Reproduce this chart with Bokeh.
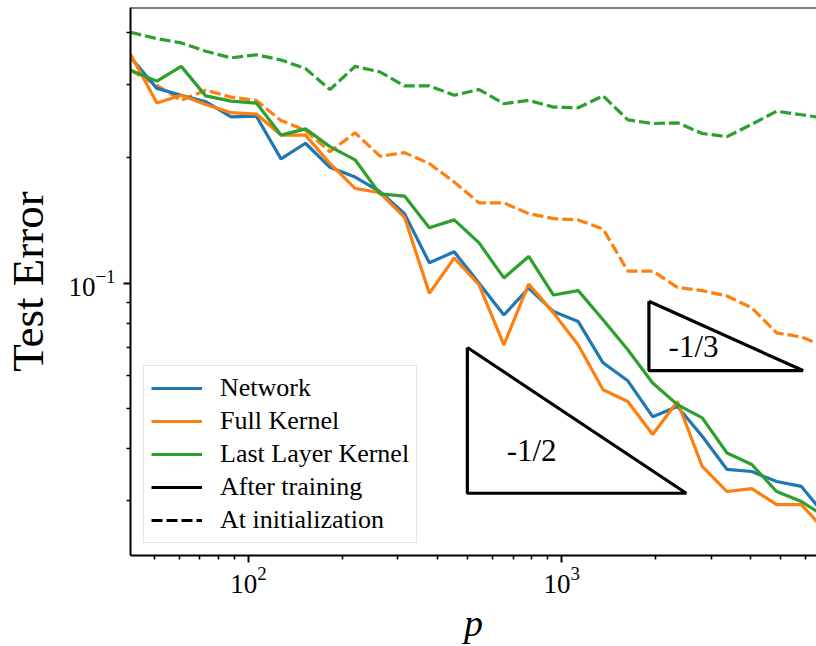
from bokeh.plotting import figure
from bokeh.models import (Range1d, FixedTicker, LogTickFormatter, Span, Legend,
                          LegendItem, ColumnDataSource)
from bokeh.core.properties import value
from bokeh.embed import file_html
from bokeh.resources import INLINE

# ---------------- data ----------------
p_values = [42, 51, 61, 73, 88, 106, 127, 152, 182, 219, 263, 315, 378, 454, 545,
            654, 785, 942, 1130, 1356, 1627, 1953, 2343, 2812, 3374, 4049, 4859,
            5831, 6997]

network = [0.349, 0.294, 0.283, 0.273, 0.251, 0.252, 0.199, 0.217, 0.190, 0.180,
           0.166, 0.147, 0.112, 0.119, 0.100, 0.0839, 0.0974, 0.0855, 0.0809,
           0.0644, 0.0583, 0.0478, 0.0506, 0.0429, 0.0357, 0.0353, 0.0334,
           0.0325, 0.0275]

full_kernel = [0.355, 0.271, 0.283, 0.269, 0.257, 0.255, 0.227, 0.227, 0.194,
               0.169, 0.165, 0.144, 0.0946, 0.115, 0.0991, 0.0711, 0.0996, 0.0849,
               0.0711, 0.0555, 0.0520, 0.0433, 0.0520, 0.0363, 0.0316, 0.0321,
               0.0294, 0.0294, 0.0253]

last_layer = [0.325, 0.306, 0.332, 0.282, 0.274, 0.271, 0.227, 0.235, 0.213, 0.198,
              0.164, 0.162, 0.136, 0.142, 0.125, 0.103, 0.116, 0.0937, 0.0960,
              0.0817, 0.0692, 0.0576, 0.0511, 0.0475, 0.0391, 0.0367, 0.0316,
              0.0299, 0.0274]

full_kernel_init = [0.325, 0.299, 0.275, 0.291, 0.280, 0.275, 0.246, 0.233, 0.207,
                    0.230, 0.202, 0.206, 0.194, 0.175, 0.156, 0.156, 0.147, 0.143,
                    0.142, 0.135, 0.107, 0.107, 0.0978, 0.0960, 0.0932, 0.0873,
                    0.0760, 0.0743, 0.0703]

last_layer_init = [0.401, 0.387, 0.378, 0.361, 0.348, 0.354, 0.344, 0.328, 0.292,
                   0.332, 0.322, 0.298, 0.298, 0.283, 0.292, 0.270, 0.275, 0.265,
                   0.264, 0.282, 0.247, 0.242, 0.243, 0.229, 0.225, 0.241, 0.259,
                   0.254, 0.249]

# slope triangles
tri_half_x = [500, 500, 2500, 500]
tri_half_y = [0.0701, 0.0313, 0.0313, 0.0701]
tri_third_x = [1900, 1900, 5900, 1900]
tri_third_y = [0.0905, 0.0617, 0.0617, 0.0905]
tri_label_x = [802, 2638]
tri_label_y = [0.0396, 0.0704]
tri_labels = ["-1/2", "-1/3"]

# axes
x_limits = (42, 6515)
y_limits = (0.02218, 0.4598)
x_major = [100, 1000]
x_minor = [50, 60, 70, 80, 90, 200, 300, 400, 500, 600, 700, 800, 900,
           2000, 3000, 4000, 5000, 6000]
y_major = [0.1]
y_minor = [0.03, 0.04, 0.05, 0.06, 0.07, 0.08, 0.09, 0.2, 0.3, 0.4]

series_labels = ["Network", "Full Kernel", "Last Layer Kernel",
                 "After training", "At initialization"]

# ---------------- styling ----------------
BLUE = "#1f77b4"
ORANGE = "#ff7f0e"
GREEN = "#2ca02c"
FONT = "Liberation Serif"
LW = 3.2
DASH = "11 4"

p = figure(width=816, height=646, x_axis_type="log", y_axis_type="log",
           x_range=Range1d(*x_limits), y_range=Range1d(*y_limits),
           output_backend="svg", toolbar_location=None,
           min_border_left=130, min_border_right=0, min_border_top=7,
           min_border_bottom=90)
p.outline_line_color = None
p.xgrid.grid_line_color = None
p.ygrid.grid_line_color = None
p.background_fill_color = "white"
p.border_fill_color = "white"

for ax, major, minor in ((p.xaxis[0], x_major, x_minor), (p.yaxis[0], y_major, y_minor)):
    ax.ticker = FixedTicker(ticks=major, minor_ticks=minor)
    ax.formatter = LogTickFormatter()
    ax.axis_line_width = 2
    ax.axis_line_color = "black"
    ax.major_tick_line_width = 2
    ax.minor_tick_line_width = 1.6
    ax.major_tick_out = 7
    ax.major_tick_in = 0
    ax.minor_tick_out = 4
    ax.minor_tick_in = 0
    ax.major_label_text_font = FONT
    ax.major_label_text_font_size = "27px"
    ax.major_label_text_color = "black"
    ax.axis_label_text_font = FONT
    ax.axis_label_text_color = "black"

p.xaxis.axis_label = "p"
p.xaxis.axis_label_text_font_size = "38px"
p.xaxis.axis_label_text_font_style = "italic"
p.xaxis.major_label_standoff = 4
p.xaxis.axis_label_standoff = 6

p.yaxis.axis_label = "Test Error"
p.yaxis.axis_label_text_font_size = "45px"
p.yaxis.axis_label_text_font_style = "normal"
p.yaxis.major_label_standoff = 8
p.yaxis.axis_label_standoff = 12

# top spine
p.add_layout(Span(location=y_limits[1], dimension="width", line_color="black",
                  line_width=2))

src = ColumnDataSource(dict(p=p_values, net=network, fk=full_kernel, ll=last_layer,
                            fki=full_kernel_init, lli=last_layer_init))

r_lli = p.line("p", "lli", source=src, line_color=GREEN, line_width=LW, line_dash=DASH)
r_fki = p.line("p", "fki", source=src, line_color=ORANGE, line_width=LW, line_dash=DASH)
r_net = p.line("p", "net", source=src, line_color=BLUE, line_width=LW)
r_fk = p.line("p", "fk", source=src, line_color=ORANGE, line_width=LW)
r_ll = p.line("p", "ll", source=src, line_color=GREEN, line_width=LW)

# triangles
p.line(tri_half_x, tri_half_y, line_color="black", line_width=3.2)
p.line(tri_third_x, tri_third_y, line_color="black", line_width=3.2)
p.text(x=tri_label_x, y=tri_label_y, text=tri_labels, text_font=value(FONT),
       text_font_size="31px", text_align="center", text_baseline="middle",
       text_color="black")

# legend proxies (style-only entries, no visible data)
nan = float("nan")
r_after = p.line([nan], [nan], line_color="black", line_width=LW)
r_init = p.line([nan], [nan], line_color="black", line_width=LW, line_dash=DASH)

legend = Legend(items=[LegendItem(label=lbl, renderers=[r]) for lbl, r in
                       zip(series_labels, [r_net, r_fk, r_ll, r_after, r_init])],
                location=(13, 12))
legend.label_text_font = FONT
legend.label_text_font_size = "26px"
legend.label_text_color = "black"
legend.glyph_width = 51
legend.glyph_height = 30
legend.label_height = 30
legend.label_standoff = 18
legend.spacing = 3
legend.padding = 7
legend.margin = 0
legend.border_line_color = "#cccccc"
legend.border_line_width = 1.5
legend.background_fill_color = "white"
legend.background_fill_alpha = 0.8
p.add_layout(legend)

open("out.html", "w").write(file_html(p, INLINE))
